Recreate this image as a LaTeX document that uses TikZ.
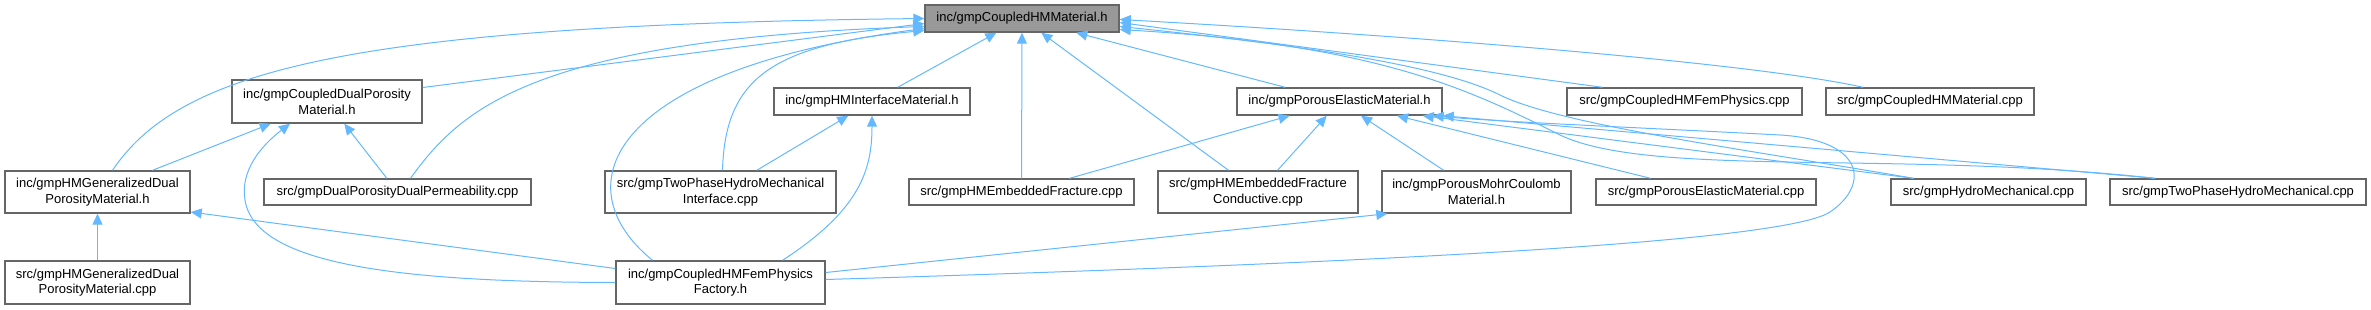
\documentclass[tikz,border=0pt]{standalone}
\usepackage{fontspec}
\setmainfont{Liberation Sans}
\usepackage{tikz}
\usetikzlibrary{arrows.meta}
\definecolor{edgeblue}{HTML}{63B8FF}
\definecolor{framegray}{HTML}{666666}
\definecolor{maingray}{HTML}{999999}

\begin{document}
\begin{tikzpicture}[
  x=1pt,y=-1pt,
  font=\fontsize{13}{15.7}\selectfont,
  file/.style={draw=framegray,line width=1.4pt,fill=white,align=center,inner sep=0pt,minimum height=27pt},
  twoline/.style={file,minimum height=43pt},
  arr/.style={-{Triangle[length=11pt,width=10pt]},line width=1pt,edgeblue}
]
\useasboundingbox (0,0) rectangle (2371,309);
% top row
\node[file,fill=maingray,minimum width=194] (main) at (1022,18.5) {inc/gmpCoupledHMMaterial.h};
% second row
\node[twoline,minimum width=190] (cdp) at (327,101.5) {inc/gmpCoupledDualPorosity\\Material.h};
\node[file,minimum width=196] (hmi) at (872,101.5) {inc/gmpHMInterfaceMaterial.h};
\node[file,minimum width=205] (pe) at (1339.5,101.5) {inc/gmpPorousElasticMaterial.h};
\node[file,minimum width=235] (cfp) at (1684.5,101.5) {src/gmpCoupledHMFemPhysics.cpp};
\node[file,minimum width=208] (cmc) at (1930,101.5) {src/gmpCoupledHMMaterial.cpp};
% third row
\node[twoline,minimum width=185,minimum height=42] (hmgd) at (97.5,192) {inc/gmpHMGeneralizedDual\\PorosityMaterial.h};
\node[file,minimum width=267,minimum height=26] (dpdp) at (397.5,192) {src/gmpDualPorosityDualPermeability.cpp};
\node[twoline,minimum width=231,minimum height=42] (tphmi) at (720.5,192) {src/gmpTwoPhaseHydroMechanical\\Interface.cpp};
\node[file,minimum width=225,minimum height=26] (hmef) at (1021.5,192) {src/gmpHMEmbeddedFracture.cpp};
\node[twoline,minimum width=200,minimum height=42] (hmefc) at (1258,192) {src/gmpHMEmbeddedFracture\\Conductive.cpp};
\node[twoline,minimum width=189,minimum height=42] (pmc) at (1476.5,192) {inc/gmpPorousMohrCoulomb\\Material.h};
\node[file,minimum width=220,minimum height=26] (pec) at (1706,192) {src/gmpPorousElasticMaterial.cpp};
\node[file,minimum width=195,minimum height=26] (hmc) at (1988.5,192) {src/gmpHydroMechanical.cpp};
\node[file,minimum width=256,minimum height=26] (tphm) at (2238,192) {src/gmpTwoPhaseHydroMechanical.cpp};
% bottom row
\node[twoline,minimum width=185] (hmgdc) at (97.5,282.5) {src/gmpHMGeneralizedDual\\PorosityMaterial.cpp};
\node[twoline,minimum width=209] (fac) at (720.5,282.5) {inc/gmpCoupledHMFemPhysics\\Factory.h};
% straight includes
\foreach \x/\y in {hmgd/cdp,dpdp/cdp,hmgdc/hmgd,tphmi/hmi,hmef/main,hmi/main,hmefc/main,pe/main,hmef/pe,hmefc/pe,pmc/pe,pec/pe} \draw[arr] (\x) -- (\y);
\draw[arr] ([xshift=-75]hmc.north) -- ([xshift=-20]pe.south east);
\draw[arr] ([xshift=-83]tphm.north) -- (pe.south east);
\draw[arr] ([yshift=14]fac.west) -- ([yshift=-20]hmgd.east);
\draw[arr] ([yshift=10]fac.east) -- ([xshift=6]pmc.south west);
\draw[arr] ([yshift=14]cdp.east) -- ([yshift=-5]main.west);
\draw[arr] ([xshift=-82]cfp.north) -- ([yshift=-4]main.east);
% curved includes
\draw[arr] ([xshift=15]hmgd.north) .. controls (180,70) and (350,25) .. (main.west);
\draw[arr] ([xshift=13]dpdp.north) .. controls (460,110) and (530,40) .. ([yshift=-8]main.west);
\draw[arr] ([xshift=2]tphmi.north) .. controls (725,80) and (770,45) .. ([yshift=-12]main.west);
\draw[arr] ([xshift=-68]fac.north) .. controls (560,185) and (610,70) .. ([yshift=-10]main.west);
\draw[arr] ([xshift=62]fac.north) .. controls (860,210) and (872,170) .. (hmi.south);
\draw[arr] (fac.west) .. controls (400,282) and (255,265) .. (245,200) .. controls (240,170) and (262,145) .. ([xshift=-37]cdp.south);
\draw[arr] ([yshift=3]fac.east) .. controls (1300,265) and (1780,245) .. (1830,212) .. controls (1870,185) and (1865,140) .. (1780,135) .. controls (1650,128) and (1500,122) .. ([xshift=-10]pe.south east);
\draw[arr] ([xshift=-67]cmc.north) .. controls (1750,62) and (1400,35) .. ([yshift=-1]main.east);
\draw[arr] ([xshift=-75]hmc.north) .. controls (1750,150) and (1560,125) .. (1500,95) .. controls (1440,65) and (1300,45) .. ([yshift=-8]main.east);
\draw[arr] ([xshift=-83]tphm.north) .. controls (1900,150) and (1650,178) .. (1560,135) .. controls (1470,90) and (1380,45) .. ([yshift=-11]main.east);
\end{tikzpicture}
\end{document}
